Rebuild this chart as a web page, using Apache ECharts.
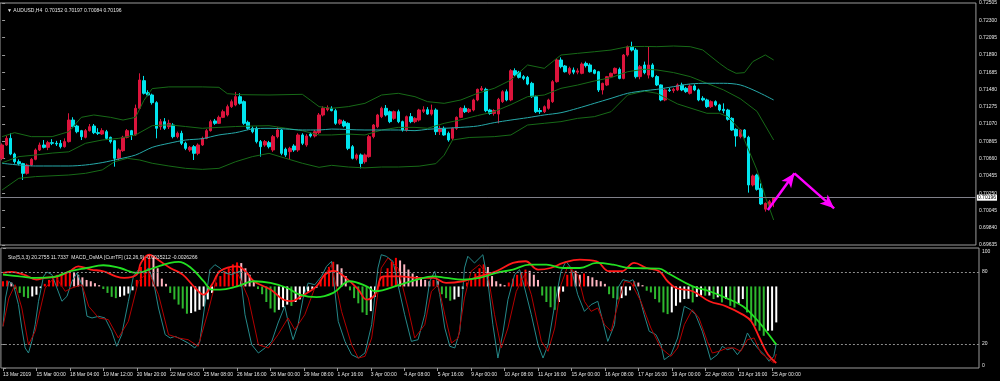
<!DOCTYPE html>
<html><head><meta charset="utf-8">
<script src="https://cdn.jsdelivr.net/npm/echarts@6/dist/echarts.min.js"></script>
<style>html,body{margin:0;padding:0;background:#000;}#c{width:1000px;height:381px;}</style>
</head><body><div id="c"></div>
<script>
// ---------- DATA ----------
const N_SLOTS = 234; // bar slots on the time axis (186 bars + empty right shift)
const timeLabels = ['13 Mar 2019','15 Mar 00:00','18 Mar 04:00','19 Mar 12:00','20 Mar 20:00','22 Mar 04:00','25 Mar 08:00','26 Mar 16:00','28 Mar 00:00','29 Mar 08:00','1 Apr 16:00','3 Apr 00:00','4 Apr 08:00','5 Apr 16:00','9 Apr 00:00','10 Apr 08:00','11 Apr 16:00','15 Apr 00:00','16 Apr 08:00','17 Apr 16:00','19 Apr 00:00','22 Apr 08:00','23 Apr 16:00','25 Apr 00:00'];
const priceMin = 0.69635, priceMax = 0.72505, priceStep = 0.00205;
const stochLevels = [0, 20, 80, 100];
// candles: [open, close, low, high] in points (1e-5)
const ohlcPts = [
[70663,70821,70640,70840],[70821,70900,70810,70930],[70900,70714,70700,70959],[70714,70623,70600,70730],[70623,70600,70580,70650],
[70600,70485,70406,70610],[70485,70584,70470,70600],[70584,70651,70570,70665],[70651,70762,70640,70780],[70762,70821,70750,70850],
[70821,70793,70780,70880],[70793,70849,70760,70870],[70849,70841,70820,70890],[70841,70833,70810,70870],[70840,70801,70780,70880],
[70801,70861,70790,70900],[70861,71117,70850,71197],[71117,71038,71020,71150],[71046,70979,70960,71060],[70991,70920,70880,71000],
[70912,70991,70900,71010],[70991,71038,70980,71070],[71046,70967,70950,71070],[70967,70959,70940,71020],[70951,70991,70940,71020],
[70979,70900,70880,71000],[70912,70861,70840,70920],[70872,70663,70564,70880],[70663,70762,70640,70780],[70754,70912,70740,70930],
[70912,70991,70900,71010],[70991,70940,70880,71000],[70940,71256,70930,71300],[71256,71592,71240,71671],[71584,71434,71420,71640],
[71442,71414,71400,71470],[71414,71323,71300,71430],[71323,71019,70900,71340],[71038,71098,71000,71130],[71098,71019,71000,71140],
[71038,71078,71010,71120],[71058,70920,70900,71080],[70920,70960,70900,70980],[70960,70841,70820,70990],[70841,70781,70760,70860],
[70762,70793,70740,70810],[70801,70722,70643,70820],[70722,70821,70700,70840],[70821,70900,70810,70920],[70900,70991,70890,71010],
[70991,71098,70980,71120],[71106,71078,71060,71130],[71078,71149,71070,71170],[71149,71216,71140,71240],[71177,71276,71160,71300],
[71276,71335,71260,71360],[71295,71394,71280,71450],[71394,71315,71300,71434],[71335,71078,71060,71350],[71090,71019,71000,71110],
[71019,70979,70960,71040],[71019,70861,70840,71040],[70861,70801,70683,70880],[70821,70861,70800,70880],[70849,70801,70780,70870],
[70762,70920,70740,70940],[70920,70999,70900,71030],[70999,70722,70700,71010],[70770,70702,70680,70790],[70742,70781,70643,70800],
[70809,70762,70740,70830],[70762,70940,70740,70960],[70940,70841,70820,70960],[70821,70928,70800,70950],[70951,70928,70910,70970],
[70928,70979,70910,71000],[70967,71177,70950,71200],[71177,71256,71160,71280],[71240,71262,71220,71290],[71256,71228,71220,71280],
[71228,71078,71060,71250],[71078,71117,71060,71130],[71098,71046,71030,71120],[71078,70781,70760,71090],[70801,70663,70650,70820],
[70663,70703,70640,70720],[70703,70603,70544,70720],[70623,70703,70600,70720],[70683,70920,70670,70940],[70920,71058,70900,71070],
[71038,71177,71020,71190],[71157,71256,71140,71275],[71256,71177,71160,71295],[71216,71098,71080,71230],[71137,71216,71120,71230],
[71216,71098,71080,71240],[71098,70999,70980,71110],[70999,71157,70980,71170],[71157,71098,71080,71200],[71098,71137,71080,71150],
[71117,71236,71100,71250],[71220,71240,71200,71280],[71240,71188,71180,71270],[71188,71236,71170,71300],[71236,70979,70940,71256],
[70979,71019,70940,71050],[71019,70940,70930,71040],[70960,70880,70860,70980],[70900,71019,70880,71030],[71019,71149,71000,71160],
[71149,71256,71140,71270],[71256,71216,71200,71290],[71216,71244,71200,71260],[71236,71355,71220,71370],[71355,71481,71340,71490],
[71473,71493,71460,71520],[71481,71228,71210,71500],[71236,71196,71180,71250],[71196,71230,71170,71245],[71188,71362,71078,71380],
[71335,71453,71320,71470],[71453,71355,71340,71480],[71355,71702,71340,71720],[71702,71651,71640,71730],[71683,71623,71610,71700],
[71631,71611,71590,71650],[71623,71544,71530,71640],[71552,71394,71380,71570],[71394,71216,71200,71410],[71230,71216,71190,71260],
[71216,71275,71200,71290],[71256,71355,71240,71370],[71335,71572,71320,71590],[71572,71829,71560,71850],[71829,71750,71730,71860],
[71758,71690,71680,71770],[71671,71730,71650,71750],[71710,71685,71660,71740],[71685,71700,71660,71730],[71671,71781,71660,71800],
[71789,71762,71740,71810],[71770,71690,71680,71790],[71710,71671,71660,71720],[71690,71473,71450,71700],[71473,71552,71420,71560],
[71532,71631,71520,71640],[71631,71671,71620,71680],[71671,71730,71660,71740],[71718,71611,71600,71740],[71611,71888,71600,71900],
[71888,71987,71870,72000],[71987,71947,71930,72046],[71947,71631,71610,71970],[71632,71750,71600,71770],[71770,71679,71660,71810],
[71650,71770,71610,71987],[71770,71632,71620,71790],[71632,71533,71520,71650],[71533,71355,71340,71540],[71355,71474,71340,71490],
[71474,71466,71450,71500],[71466,71481,71440,71500],[71474,71533,71460,71550],[71533,71474,71460,71560],[71493,71454,71440,71510],
[71434,71521,71420,71540],[71521,71474,71460,71540],[71474,71355,71340,71490],[71375,71355,71340,71400],[71355,71276,71260,71370],
[71276,71335,71260,71350],[71335,71296,71280,71350],[71296,71236,71220,71310],[71244,71228,71197,71315],[71236,71126,71110,71250],
[71137,70999,70990,71150],[71007,70928,70801,71020],[70920,70999,70900,71010],[70999,70912,70900,71010],[70912,70347,70256,70930],
[70347,70454,70330,70470],[70465,70295,70280,70480],[70307,70122,70110,70367],[70060,70129,70031,70140],[70110,70149,70090,70170],
[70152,70196,70084,70197]
];
// overlays: [barIndex, price in points]
const maLine = [[0,70604],[8,70572],[16,70572],[20,70584],[24,70612],[28,70655],[32,70702],[36,70793],[40,70841],[44,70880],[48,70896],[52,70940],[56,70967],[60,71011],[64,71019],[68,71011],[72,70999],[76,70999],[79,71010],[87,70999],[95,70999],[99,70991],[102,71007],[110,71030],[114,71046],[118,71086],[122,71117],[126,71145],[130,71177],[134,71204],[138,71256],[142,71315],[146,71374],[150,71434],[154,71465],[157,71481],[161,71513],[165,71545],[169,71553],[173,71553],[177,71533],[181,71454],[185,71355]];
const bbUpper = [[0,70920],[3,70967],[7,70920],[12,70920],[16,70979],[19,71149],[22,71177],[26,71149],[29,71117],[32,71149],[34,71350],[36,71490],[40,71510],[48,71510],[52,71505],[54,71430],[57,71418],[64,71414],[72,71422],[74,71350],[76,71276],[79,71256],[83,71276],[87,71315],[91,71414],[95,71434],[99,71394],[102,71335],[106,71315],[110,71355],[114,71434],[118,71493],[122,71592],[126,71770],[130,71730],[134,71888],[138,71908],[142,71927],[146,71947],[150,71987],[154,71990],[157,71987],[161,71995],[165,71987],[168,71948],[172,71790],[174,71719],[176,71671],[178,71679],[180,71810],[183,71889],[185,71829]];
const bbMid = [[0,70610],[4,70683],[8,70702],[12,70725],[16,70740],[20,70841],[24,70880],[28,70900],[32,70940],[36,71050],[40,71060],[44,71040],[48,71019],[52,71030],[56,71040],[60,71046],[64,71050],[68,71020],[72,70990],[76,70940],[79,70940],[83,70951],[87,70940],[91,70999],[95,71030],[99,71030],[102,71019],[106,71078],[110,71120],[114,71170],[118,71216],[122,71300],[126,71394],[130,71414],[134,71493],[138,71532],[142,71580],[146,71620],[150,71690],[154,71720],[157,71711],[161,71680],[165,71632],[169,71553],[173,71474],[177,71370],[181,71220],[185,70880]];
const bbLower = [[0,70287],[4,70426],[8,70446],[16,70465],[20,70485],[24,70525],[27,70623],[30,70663],[33,70643],[36,70604],[40,70572],[44,70544],[48,70532],[52,70544],[56,70623],[60,70683],[64,70722],[68,70663],[72,70604],[76,70556],[79,70580],[83,70560],[87,70550],[91,70560],[95,70560],[100,70570],[104,70600],[106,70700],[108,70880],[112,70910],[118,70920],[122,70940],[126,71058],[130,71078],[134,71098],[138,71137],[142,71157],[146,71216],[150,71414],[154,71460],[157,71434],[162,71307],[169,71197],[172,71197],[174,71157],[177,71000],[178,70880],[181,70525],[183,70208],[185,69932]];
// drawn arrows: [fromIndex, fromPrice, toIndex, toPrice] (points)
const arrows = [[183.6,70050,190,70485],[190,70485,199.5,70070]];
// MACD OsMA histogram (x1e-4)
const osma = [
4,4.5,3,-2,-5,-8,-9,-7.7,-6.4,-1.3,
2,5,8,9,10,11,12.5,11,9,7,
5,4,2.5,1,-2,-5,-8,-9,-8,-7,
-5.5,-3,5,15,22,24.5,23,14,6,2,
-5,-10,-14,-17,-21,-20.5,-19.3,-18,-15.4,-10,
-5,3,8,12,15,17,18.5,18,14,9,
4,-2,-6,-12,-17,-20,-18,-16,-14,-15,
-12,-10,-7,-4,-2,-1,5,10,15,19,
17,14,8,-3,-9,-13,-20,-22,-19,-8,
3,8,14,19,22,20,17,13,10,8,
6,5,4,5,4,-6,-9,-11,-10,-8,
-2,3,6,10,14,17,15,8,4,2,
1,3,6,9,11,13,12,9,5,-7,
-12,-16,-18,-12,-4,9,14,12,9,10,
8,7,5,4,2,-6,-9,-10,-9,-7,
-3,4,3,1,-3.3,-4.6,-9.7,-12.3,-20,-21.3,
-20,-14.9,-12.3,-9.7,-9.5,-12.3,-8,-7,-7.1,-7,
-9.7,-8.4,-12.3,-9.7,-14.9,-16.2,-13.6,-9.7,-20,-26.4,
-30.3,-34.1,-38,-34.1,-34,-27.7];
const macdRed = [[0,10.4],[2,11.2],[5,9.1],[8,5.3],[10,6.6],[13,7.8],[16,11.7],[18,15.5],[21,13.0],[24,11.7],[27,7.8],[29,6.6],[32,9.1],[33,18.1],[35,24.5],[37,20.7],[40,14.2],[43,9.1],[46,-1.2],[48,-6.3],[50,1.4],[52,12.0],[56,15.5],[58,11.7],[60,4.0],[64,-2.4],[67,-10.1],[69,-11.4],[71,-8.3],[75,0.1],[77,9.1],[79,12],[82,6.6],[85,-2.4],[87,-10.1],[89,-6.3],[91,7.8],[95,7.8],[99,6.6],[103,6.6],[106,2.7],[110,4.0],[114,7.8],[118,11.7],[122,18.1],[125,19.4],[128,13.0],[131,14.2],[134,18.1],[138,20.7],[142,19.4],[145,11.7],[148,11.7],[151,18.1],[154,14.2],[157,11.7],[159,4.0],[161,-1.2],[165,-3.7],[169,-11.4],[173,-15.3],[177,-21.7],[179,-26.8],[181,-39.7],[183,-52.5],[185,-58.9]];
const macdGreen = [[0,9.1],[4,7.8],[8,6.6],[12,7.1],[16,11.7],[20,14.2],[24,16.3],[28,14.2],[32,10.4],[36,14.2],[40,18.1],[42,18.9],[45,14.2],[48,4.0],[50,-2.4],[52,-2.4],[56,0.1],[60,4.0],[64,2.7],[68,-1.2],[71,-6.3],[75,-8.3],[79,-5],[83,4.0],[87,0.1],[89,-3.7],[95,1.4],[99,5.3],[103,7.8],[106,6.6],[110,5.3],[114,6.6],[118,10.4],[122,13.0],[126,16.8],[130,16.8],[134,14.2],[138,14.2],[142,18.1],[146,16.8],[150,14.2],[153,14.0],[157,13.7],[159,10.4],[165,0.1],[169,-3.7],[173,-8.9],[177,-15.3],[180,-24.3],[182,-32.0],[185,-44.8]];
const stochMain = [[0,34.7],[0.6,58.3],[1.4,72.2],[2.5,69.4],[3.7,52.8],[4.5,33.3],[5.3,16.7],[6.1,12.5],[6.9,22.2],[7.7,36.1],[8.5,55.6],[9.7,76.4],[10.5,80],[11.7,77.8],[12.9,66.7],[14.1,55.6],[15.3,59.7],[16.5,72.2],[17.7,79.2],[18.9,69.4],[20.1,43.1],[21.3,41.7],[22.9,43.1],[24.4,41.7],[26.0,30.6],[27.2,18.1],[28.4,27.8],[30.0,55.6],[31.2,76.4],[32.4,81.9],[33.6,79.2],[34.8,83.3],[36.0,72.2],[37.2,50],[38.8,27.8],[40.0,25],[41.2,26.4],[42.8,23.6],[44.3,20.8],[45.9,16.7],[47.1,22.2],[48.3,52.8],[49.5,81.9],[50.7,86.1],[51.9,83.3],[53.1,79.2],[54.7,77.8],[55.5,79.2],[56.7,80.6],[57.9,44.4],[59.5,19.4],[61.1,12.5],[62.7,16.7],[64.3,22.2],[65.8,37.5],[67.4,51.4],[68.2,38.9],[69.4,23.6],[70.6,36.1],[71.8,58.3],[73.0,70.8],[74.6,69.4],[76.2,76.4],[77.4,84.7],[78.6,88.9],
[80.2,38.9],[81.8,22.2],[83.4,11.1],[85.0,8.3],[86.6,12.5],[88.2,36.1],[89.7,83.3],[90.5,94.4],[91.7,93.1],[93.3,88.9],[94.5,69.4],[96.1,44.4],[97.7,22.2],[99.3,23.6],[100.9,44.4],[102.1,72.2],[103.3,80.6],[104.5,61.1],[105.7,33.3],[106.9,18.1],[108.1,16.7],[109.3,30.6],[110.4,83.3],[111.2,93.1],[112.8,87.5],[114.8,94.4],[116.0,72.2],[117.2,36.1],[118.4,8.3],[119.6,29.2],[120.8,56.9],[122.4,77.8],[123.6,81.9],[124.8,66.7],[126.4,44.4],[128.0,19.4],[129.2,8.3],[130.4,19.4],[132.0,52.8],[133.5,80.6],[134.7,88.9],[135.9,83.3],[137.5,61.1],[139.1,47.2],[140.7,52.8],[142.3,55.6],[143.5,38.9],[144.7,22.2],[146.3,36.1],[147.1,66.7],[148.3,73.6],[149.9,72.2],[150.7,73.6],[151.9,63.9],[153.4,44.4],[154.6,30.6],[156.2,27.8],[157.4,19.4],
[158.2,6.9],[159.8,11.1],[161.4,25],[163.0,51.4],[164.5,48.6],[165.7,44.4],[167.3,30.6],[168.5,16.7],[169.3,6.9],[170.9,11.1],[172.1,18.1],[173.3,15.3],[174.5,16.7],[175.7,11.1],[176.9,16.7],[178.1,29.2],[179.3,22.2],[180.5,16.7],[182.1,11.1],[183.3,5.6],[184.4,9.7],[185,20.3]];
const stochSignal = [[0,34.7],[1.4,58.3],[2.9,69.4],[4.5,50],[6.1,19.4],[7.7,30.6],[10.1,66.7],[12.5,76.4],[14.9,63.9],[16.5,66.7],[18.9,69.4],[20.5,51.4],[22.9,41.7],[25.2,40.3],[27.6,25],[30.0,38.9],[32.4,72.2],[34.8,80.6],[37.2,61.1],[39.6,27.8],[42.0,25],[44.3,23.6],[46.7,18.1],[49.1,47.2],[51.5,80.6],[53.9,83.3],[56.3,77.8],[58.7,58.3],[61.1,19.4],[63.5,16.7],[65.8,27.8],[68.2,41.7],[69.8,31.9],[72.2,44.4],[74.6,66.7],[77.0,77.8],[78.6,86.1],
[81.0,47.2],[83.4,19.4],[85.0,8.3],[86.6,9.7],[88.2,25],[90.5,83.3],[92.1,91.7],[94.5,83.3],[96.9,50],[98.5,25],[100.9,36.1],[102.5,63.9],[104.1,69.4],[105.7,44.4],[107.3,20.8],[108.9,25],[110.4,58.3],[112.0,80.6],[114.0,86.1],[116.0,77.8],[117.6,44.4],[119.2,16.7],[120.8,33.3],[122.8,63.9],[124.8,77.8],[126.4,61.1],[128.8,22.2],[130.4,13.9],[132.0,33.3],[133.5,69.4],[135.1,84.7],[137.5,77.8],[139.1,55.6],[140.7,47.2],[142.3,50],[143.9,36.1],[145.5,30.6],[147.1,52.8],[148.7,72.2],[150.3,70.8],[152.6,55.6],[155.0,33.3],
[157.4,16.7],[159.8,9.7],[161.4,16.7],[163.0,36.1],[164.9,48.6],[166.5,41.7],[168.5,22.2],[169.7,12.5],[171.3,13.9],[173.3,16.7],[174.9,16.7],[176.5,13.9],[178.1,23.6],[179.7,25],[181.3,12.5],[182.9,8.3],[184.4,4.2],[185,11.7]];

// ---------- CHART ----------
const P = v => v / 1e5;
const FONT = 'Liberation Sans';
const TXT = '#e6e6e6', FRAME = '#9a9a9a';
const UP = '#dc143c', DOWN = '#00e5ee';
const cats = Array.from({length: N_SLOTS}, (_, i) => String(i));
const isTick = i => i % 8 === 0 && i / 8 < timeLabels.length;
const last = ohlcPts[ohlcPts.length - 1];
const lastClose = P(last[1]);
const header = '\u25BC AUDUSD,H4  ' + [last[0], last[3], last[2], last[1]].map(v => P(v).toFixed(5)).join(' ');
const lbl = {color: TXT, fontSize: 5, fontFamily: FONT};
const pts = arr => arr.map(d => [d[0], P(d[1])]);
function histColor(i) {
  const v = osma[i], p = i > 0 ? osma[i - 1] : v;
  if (v >= 0) return v >= p ? '#ff0000' : '#ffb6c1';
  return v <= p ? '#2eb82e' : '#ffffff';
}
const lineS = (name, data, xi, yi, color, width, smooth) => ({
  name, type: 'line', xAxisIndex: xi, yAxisIndex: yi, data, symbol: 'none', smooth: smooth || false,
  lineStyle: {color, width}, silent: true
});

const option = {
  backgroundColor: '#000',
  animation: false,
  textStyle: {fontFamily: FONT},
  title: [
    {text: header, left: 2, top: 3, textStyle: Object.assign({fontWeight: 'normal'}, lbl)},
    {text: 'Sto(5,3,3) 20.2755 11.7337  MACD_OsMA [CurrTF] (12,26,9) -0.0035212 -0.0026266', left: 3, top: 250, textStyle: Object.assign({fontWeight: 'normal'}, lbl)}
  ],
  grid: [
    {left: 0, right: 21, top: 3, height: 242, show: true, borderColor: FRAME, borderWidth: 1, backgroundColor: 'transparent'},
    {left: 0, right: 21, top: 248, height: 120, show: true, borderColor: FRAME, borderWidth: 1, backgroundColor: 'transparent'}
  ],
  xAxis: [
    {type: 'category', gridIndex: 0, data: cats, show: false},
    {type: 'category', gridIndex: 1, data: cats, position: 'bottom',
     axisLine: {show: false},
     axisTick: {show: true, interval: i => isTick(i), alignWithLabel: true, length: 3, lineStyle: {color: FRAME}},
     axisLabel: Object.assign({interval: i => isTick(i), formatter: (v, i) => timeLabels[i / 8], align: 'left', margin: 4}, lbl),
     splitLine: {show: false}},
    {type: 'value', gridIndex: 0, min: -0.5, max: N_SLOTS - 0.5, show: false, position: 'top'},
    {type: 'value', gridIndex: 1, min: -0.5, max: N_SLOTS - 0.5, show: false, position: 'top'}
  ],
  yAxis: [
    {type: 'value', gridIndex: 0, position: 'right', min: priceMin, max: priceMax, interval: priceStep,
     axisLine: {show: false}, splitLine: {show: false},
     axisTick: {show: true, length: 3, lineStyle: {color: FRAME}},
     axisLabel: Object.assign({margin: 3, formatter: v => v.toFixed(5)}, lbl)},
    {type: 'value', gridIndex: 1, position: 'right', min: 0, max: 100,
     axisLine: {show: false}, splitLine: {show: false},
     axisTick: {show: true, customValues: stochLevels, length: 3, lineStyle: {color: FRAME}},
     axisLabel: Object.assign({customValues: stochLevels, margin: 3,
       formatter: v => v === 100 ? '{t|100}' : (v === 0 ? '{b|0}' : String(v)),
       rich: {t: Object.assign({padding: [7, 0, 0, 0]}, lbl), b: Object.assign({padding: [0, 0, 4, 0]}, lbl)}}, lbl)},
    {type: 'value', gridIndex: 1, min: -62.8, max: 29.6, show: false}
  ],
  series: [
    Object.assign(lineS('BB upper', pts(bbUpper), 2, 0, '#176a17', 1), {
      markLine: {silent: true, symbol: 'none', precision: 5, data: [{yAxis: lastClose}],
        lineStyle: {color: '#80808a', type: 'solid', width: 1},
        label: {position: 'end', formatter: lastClose.toFixed(5), distance: 1, backgroundColor: '#ffffff', color: '#000',
                fontSize: 5, fontFamily: FONT, padding: [1, 1, 0, 1]}}
    }),
    lineS('BB middle', pts(bbMid), 2, 0, '#176a17', 1),
    lineS('BB lower', pts(bbLower), 2, 0, '#176a17', 1),
    Object.assign(lineS('MA', pts(maLine), 2, 0, '#26a9a9', 1, 0.3), {
      markLine: {silent: true, symbol: ['none', 'arrow'], symbolSize: [9, 14], precision: 5, label: {show: false},
        lineStyle: {color: '#ff00ff', width: 2.5, type: 'solid'},
        data: arrows.map(a => [{coord: [a[0], P(a[1])]}, {coord: [a[2], P(a[3])]}])}
    }),
    {name: 'AUDUSD', type: 'candlestick', xAxisIndex: 0, yAxisIndex: 0, barWidth: 3,
     data: ohlcPts.map(r => r.map(P)),
     itemStyle: {color: UP, color0: DOWN, borderColor: UP, borderColor0: DOWN, borderWidth: 1}},
    {name: 'OsMA', type: 'bar', xAxisIndex: 1, yAxisIndex: 2, barWidth: 2, silent: true,
     data: osma, itemStyle: {color: p => histColor(p.dataIndex)}},
    Object.assign(lineS('Stoch main', stochMain, 3, 1, '#25898a', 1), {
      markLine: {silent: true, symbol: 'none', label: {show: false},
        lineStyle: {color: '#8c8c8c', type: [2, 2], width: 1},
        data: [{yAxis: 80}, {yAxis: 20}]}
    }),
    lineS('Stoch signal', stochSignal, 3, 1, '#b30000', 1),
    lineS('MACD red', macdRed, 3, 2, '#ff1a1a', 1.8, 0.4),
    lineS('MACD green', macdGreen, 3, 2, '#22e022', 1.8, 0.4)
  ]
};
const chart = echarts.init(document.getElementById('c'));
chart.setOption(option);
</script>
</body></html>
